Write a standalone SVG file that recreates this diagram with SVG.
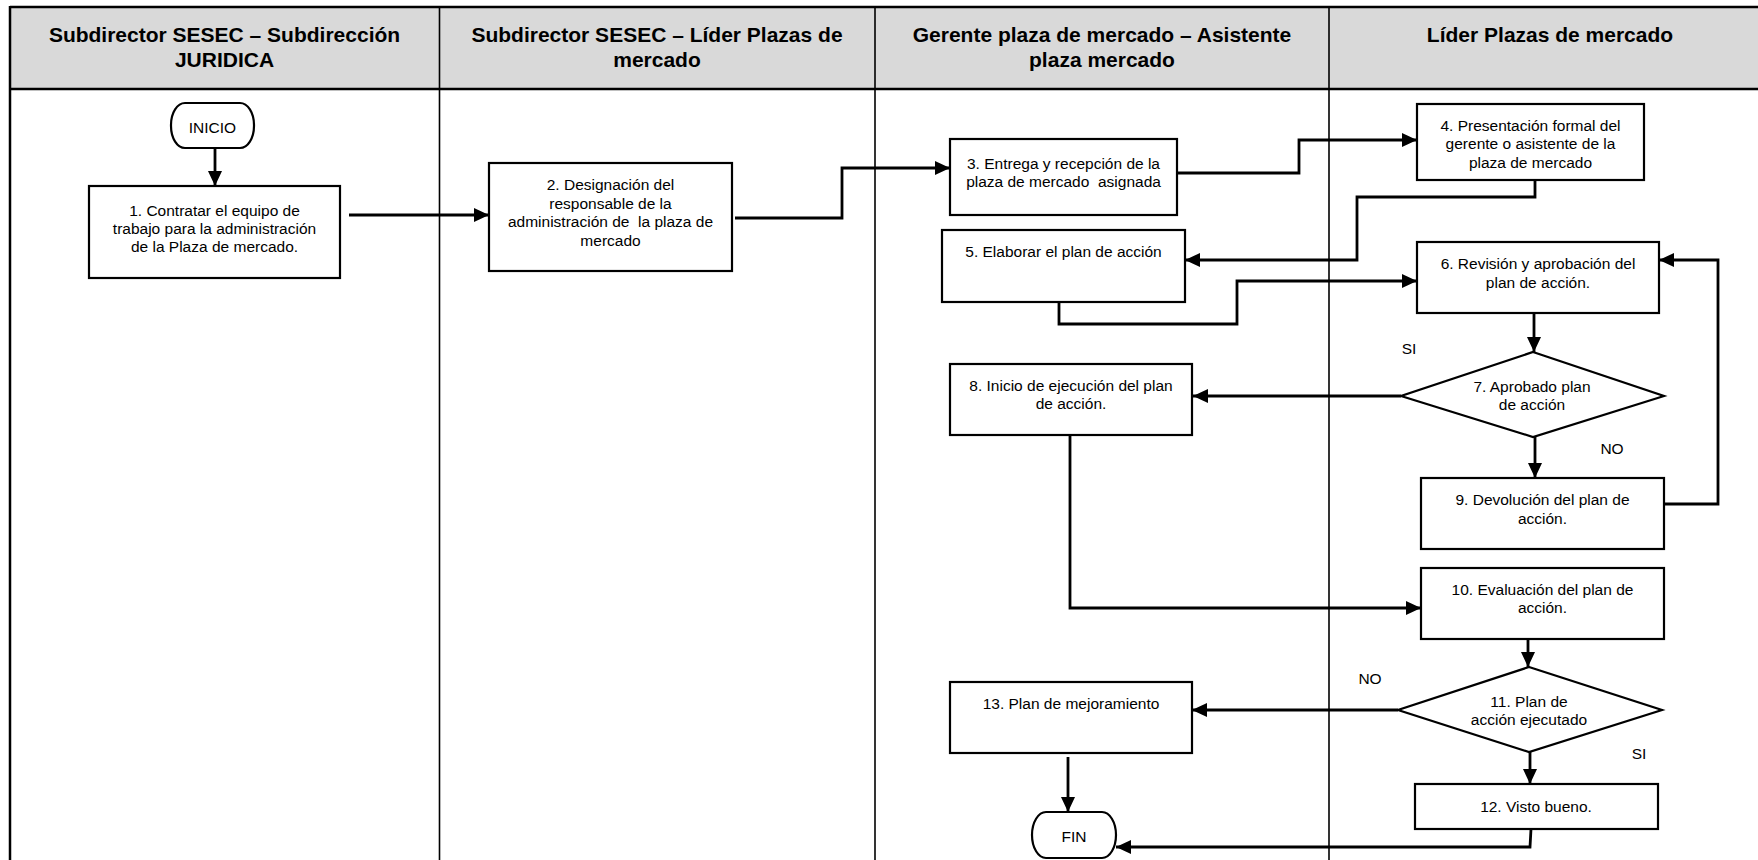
<svg xmlns="http://www.w3.org/2000/svg" width="1758" height="860" viewBox="0 0 1758 860">
<style>
.hdr{font-family:"Liberation Sans",Arial,sans-serif;font-weight:bold;font-size:21px;fill:#000;text-anchor:middle}
.t{font-family:"Liberation Sans",Arial,sans-serif;font-size:15.5px;fill:#000;text-anchor:middle;white-space:pre}
.box{fill:#fff;stroke:#000;stroke-width:2.2}
.lane{stroke:#000;stroke-width:1.6;fill:none}
.conn{stroke:#000;stroke-width:2.8;fill:none}
.arr{marker-end:url(#ah)}
</style>
<defs>
<marker id="ah" markerUnits="userSpaceOnUse" markerWidth="16" markerHeight="14" refX="15" refY="7" orient="auto">
<path d="M0,0 L15,7 L0,14 z" fill="#000"/>
</marker>
</defs>
<rect x="0" y="0" width="1758" height="860" fill="#fff"/>
<g id="lanes">
<rect x="10" y="7" width="1760" height="82" fill="#d9d9d9" stroke="none"/>
<line x1="10" y1="7" x2="1758" y2="7" stroke="#000" stroke-width="2.5"/>
<line x1="10" y1="89" x2="1758" y2="89" stroke="#000" stroke-width="2.5"/>
<line x1="10" y1="6" x2="10" y2="860" stroke="#000" stroke-width="2.5"/>
<line class="lane" x1="439.5" y1="7" x2="439.5" y2="860"/>
<line class="lane" x1="875" y1="7" x2="875" y2="860"/>
<line class="lane" x1="1329" y1="7" x2="1329" y2="860"/>
<text class="hdr" x="224.5" y="42">Subdirector SESEC – Subdirección</text>
<text class="hdr" x="224.5" y="67">JURIDICA</text>
<text class="hdr" x="657" y="42">Subdirector SESEC – Líder Plazas de</text>
<text class="hdr" x="657" y="67">mercado</text>
<text class="hdr" x="1102" y="42">Gerente plaza de mercado – Asistente</text>
<text class="hdr" x="1102" y="67">plaza mercado</text>
<text class="hdr" x="1550" y="42">Líder Plazas de mercado</text>
</g>
<g id="connectors">
<path class="conn arr" d="M215,148 V186"/>
<path class="conn arr" d="M349,215 H489"/>
<path class="conn arr" d="M735,218 H842 V168 H950"/>
<path class="conn arr" d="M1177,173 H1299 V140 H1417"/>
<path class="conn arr" d="M1535,180 V197 H1357 V260 H1185"/>
<path class="conn arr" d="M1059,302 V324 H1237 V281 H1417"/>
<path class="conn arr" d="M1534,313 V352"/>
<path class="conn arr" d="M1401,396 H1193"/>
<path class="conn arr" d="M1535,437 V478"/>
<path class="conn arr" d="M1664,504 H1718 V260 H1659"/>
<path class="conn arr" d="M1070,435 V608 H1421"/>
<path class="conn arr" d="M1528,639 V667"/>
<path class="conn arr" d="M1398,710 H1192"/>
<path class="conn arr" d="M1530,752 V784"/>
<path class="conn arr" d="M1068,757 V812"/>
<path class="conn arr" d="M1531,829 L1530,847 H1116"/>
</g>
<g id="inicio">
<rect class="box" x="171" y="103" width="83" height="45" rx="14" ry="22"/>
<text class="t" x="212.5" y="132.5">INICIO</text>
</g>
<g id="n1">
<rect class="box" x="89" y="186" width="251" height="92"/>
<text class="t" x="214.5" y="215.5">1. Contratar el equipo de</text>
<text class="t" x="214.5" y="233.5">trabajo para la administración</text>
<text class="t" x="214.5" y="251.5">de la Plaza de mercado.</text>
</g>
<g id="n2">
<rect class="box" x="489" y="163" width="243" height="108"/>
<text class="t" x="610.5" y="190">2. Designación del</text>
<text class="t" x="610.5" y="208.5">responsable de la</text>
<text class="t" x="610.5" y="227">administración de  la plaza de</text>
<text class="t" x="610.5" y="245.5">mercado</text>
</g>
<g id="n3">
<rect class="box" x="950" y="139" width="227" height="76"/>
<text class="t" x="1063.5" y="168.5">3. Entrega y recepción de la</text>
<text class="t" x="1063.5" y="187">plaza de mercado  asignada</text>
</g>
<g id="n4">
<rect class="box" x="1417" y="104" width="227" height="76"/>
<text class="t" x="1530.5" y="130.5">4. Presentación formal del</text>
<text class="t" x="1530.5" y="149">gerente o asistente de la</text>
<text class="t" x="1530.5" y="167.5">plaza de mercado</text>
</g>
<g id="n5">
<rect class="box" x="942" y="230" width="243" height="72"/>
<text class="t" x="1063.5" y="256.5">5. Elaborar el plan de acción</text>
</g>
<g id="n6">
<rect class="box" x="1417" y="242" width="242" height="71"/>
<text class="t" x="1538" y="268.5">6. Revisión y aprobación del</text>
<text class="t" x="1538" y="287.5">plan de acción.</text>
</g>
<g id="n7">
<polygon class="box" points="1533,352 1664,396 1533,437 1401,396"/>
<text class="t" x="1532" y="391.5">7. Aprobado plan</text>
<text class="t" x="1532" y="409.5">de acción</text>
</g>
<g id="n8">
<rect class="box" x="950" y="364" width="242" height="71"/>
<text class="t" x="1071" y="390.5">8. Inicio de ejecución del plan</text>
<text class="t" x="1071" y="408.5">de acción.</text>
</g>
<g id="n9">
<rect class="box" x="1421" y="478" width="243" height="71"/>
<text class="t" x="1542.5" y="504.5">9. Devolución del plan de</text>
<text class="t" x="1542.5" y="523.5">acción.</text>
</g>
<g id="n10">
<rect class="box" x="1421" y="568" width="243" height="71"/>
<text class="t" x="1542.5" y="594.5">10. Evaluación del plan de</text>
<text class="t" x="1542.5" y="612.5">acción.</text>
</g>
<g id="n11">
<polygon class="box" points="1529,667 1662,710 1529,752 1398,710"/>
<text class="t" x="1529" y="706.5">11. Plan de</text>
<text class="t" x="1529" y="724.5">acción ejecutado</text>
</g>
<g id="n12">
<rect class="box" x="1415" y="784" width="243" height="45"/>
<text class="t" x="1536" y="811.5">12. Visto bueno.</text>
</g>
<g id="n13">
<rect class="box" x="950" y="682" width="242" height="71"/>
<text class="t" x="1071" y="708.5">13. Plan de mejoramiento</text>
</g>
<g id="fin">
<rect class="box" x="1032" y="812" width="84" height="46" rx="14" ry="23"/>
<text class="t" x="1074" y="841.5">FIN</text>
</g>
<g id="labels">
<text class="t" x="1409" y="353.5">SI</text>
<text class="t" x="1612" y="453.5">NO</text>
<text class="t" x="1370" y="683.5">NO</text>
<text class="t" x="1639" y="758.5">SI</text>
</g>
</svg>
